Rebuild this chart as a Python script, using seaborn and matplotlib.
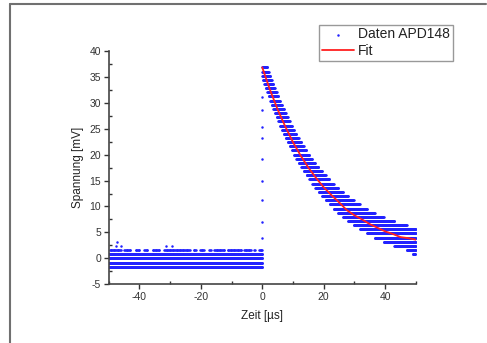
import numpy as np
import pandas as pd
import matplotlib
matplotlib.use("Agg")
import matplotlib.pyplot as plt
from matplotlib.lines import Line2D
from matplotlib.ticker import MultipleLocator
import seaborn as sns

# ---- data ----
# baseline (t < 0): quantised levels [mV] and their time extent [µs]
base_levels = [-1.6, -0.8, 0.0, 0.8]
base_start = [-50.0, -50.0, -50.0, -50.0]
base_end = [0.0, 0.0, 0.0, 0.0]
# upper baseline row (1.6 mV) is broken into runs
row16_start = [-49.6, -44.9, -41.2, -38.4, -35.7, -31.9, -22.3, -20.2, -17.2, -15.6, -11.3, -5.9, -2.6, -1.0]
row16_end = [-45.9, -42.9, -39.9, -37.3, -33.4, -23.6, -21.5, -18.8, -16.6, -12.3, -6.8, -3.6, -2.2, 0.1]
# isolated baseline outliers
out_t = [-47.3, -47.6, -46.0, -31.2, -29.4]
out_v = [3.2, 2.4, 2.4, 2.4, 2.4]
# rising edge samples at t = 0
rise_t = [0.0, 0.0, 0.0, 0.0, 0.0, 0.0, 0.0, 0.0, 0.0]
rise_v = [4.0, 7.1, 11.2, 15.0, 19.2, 23.1, 25.4, 28.6, 31.0]
# decay: quantised levels and the time run each level covers
decay_levels = [36.8, 36.0, 35.2, 34.4, 33.6, 32.8, 32.0, 31.2, 30.4, 29.6,
                28.8, 28.0, 27.2, 26.4, 25.6, 24.8, 24.0, 23.2, 22.4, 21.6,
                20.8, 20.0, 19.2, 18.4, 17.6, 16.8, 16.0, 15.2, 14.4, 13.6,
                12.8, 12.0, 11.2, 10.4, 9.6, 8.8, 8.0, 7.2, 6.4, 5.6,
                4.8, 4.0, 3.2, 2.4, 1.6, 0.8]
decay_start = [0.0, 0.0, 0.0, 0.27, 0.72, 1.18, 1.64, 2.12, 2.61, 3.11,
               3.62, 4.15, 4.70, 5.25, 5.83, 6.42, 7.03, 7.65, 8.30, 8.97,
               9.66, 10.38, 11.12, 11.90, 12.70, 13.54, 14.41, 15.33, 16.29, 17.29,
               18.35, 19.47, 20.66, 21.92, 23.26, 24.71, 26.26, 27.94, 29.78, 31.81,
               34.07, 36.61, 39.53, 42.94, 47.05, 49.0]
decay_end = [1.64, 2.12, 2.61, 3.11, 3.62, 4.15, 4.70, 5.25, 5.83, 6.42,
             7.03, 7.65, 8.30, 8.97, 9.66, 10.38, 11.12, 11.90, 12.70, 13.54,
             14.41, 15.33, 16.29, 17.29, 18.35, 19.47, 20.66, 21.92, 23.26, 24.71,
             26.26, 27.94, 29.78, 31.81, 34.07, 36.61, 39.53, 42.94, 47.05, 50.0,
             50.0, 50.0, 50.0, 50.0, 50.0, 49.8]
# fit curve
fit_t = [0, 2.5, 5, 7.5, 10, 12.5, 15, 17.5, 20, 22.5, 25, 27.5, 30,
         32.5, 35, 37.5, 40, 42.5, 45, 47.5, 50]
fit_v = [36.8, 32.5, 28.7, 25.4, 22.4, 19.8, 17.5, 15.5, 13.7, 12.2, 10.8,
         9.3, 8.3, 7.5, 6.6, 5.9, 5.2, 4.7, 4.1, 3.9, 3.6]

DT = 0.1  # sampling interval [µs]

# ---- build sample table ----
ts, vs = [], []
def add_run(lo, hi, v, step=DT):
    t = np.arange(lo, hi + 1e-9, step)
    ts.extend(t)
    vs.extend([v] * len(t))

for v, lo, hi in zip(base_levels, base_start, base_end):
    add_run(lo, hi, v)
for lo, hi in zip(row16_start, row16_end):
    add_run(lo, hi, 1.6, 0.25)
for v, lo, hi in zip(decay_levels, decay_start, decay_end):
    add_run(lo, hi, v)
ts.extend(out_t); vs.extend(out_v)
ts.extend(rise_t); vs.extend(rise_v)

df = pd.DataFrame({"t": ts, "v": vs})
fit_df = pd.DataFrame({"t": fit_t, "v": fit_v})

# ---- plot ----
sns.set_style("ticks")
plt.rcParams["font.family"] = ["Liberation Sans", "DejaVu Sans"]
plt.rcParams["axes.unicode_minus"] = False

fig = plt.figure(figsize=(4.87, 3.43), dpi=100)
ax = fig.add_axes([0.223, 0.171, 0.631, 0.681])

sns.scatterplot(data=df, x="t", y="v", ax=ax, s=3.2, marker="o",
                color="#2222ff", linewidth=0, label="Daten APD148", zorder=2)
sns.lineplot(data=fit_df, x="t", y="v", ax=ax, color="#ff2020", lw=1.3,
             label="Fit", zorder=3)

ax.set_xlim(-50, 50)
ax.set_ylim(-5, 40)
ax.xaxis.set_major_locator(MultipleLocator(20))
ax.xaxis.set_minor_locator(MultipleLocator(10))
ax.yaxis.set_major_locator(MultipleLocator(5))
ax.yaxis.set_minor_locator(MultipleLocator(2.5))
ax.tick_params(which="major", direction="out", length=3.5, width=1,
               labelsize=7.5, colors="#333333", pad=2)
ax.tick_params(which="minor", direction="in", length=2, width=1, colors="#333333")
sns.despine(ax=ax)
for s in ["left", "bottom"]:
    ax.spines[s].set_color("#444444")
    ax.spines[s].set_linewidth(1.2)

ax.set_xlabel("Zeit [µs]", fontsize=8.5, color="#222222", labelpad=6)
ax.set_ylabel("Spannung [mV]", fontsize=8.5, color="#222222", labelpad=4)

leg = ax.legend(loc="upper right", bbox_to_anchor=(0.93, 0.928),
                bbox_transform=fig.transFigure, fontsize=10, frameon=True,
                fancybox=False, edgecolor="#999999", framealpha=1,
                borderpad=0.2, handlelength=2.3, handletextpad=0.3,
                labelspacing=0.2, borderaxespad=0, markerscale=1.0)
leg.get_frame().set_linewidth(1.0)
for txt in leg.get_texts():
    txt.set_color("#222222")

# outer frame (top and left lines of the image border)
fig.add_artist(Line2D([10 / 487, 486 / 487], [1 - 4 / 343, 1 - 4 / 343],
                      transform=fig.transFigure, color="#707070", lw=1.5))
fig.add_artist(Line2D([10 / 487, 10 / 487], [0, 1 - 4 / 343],
                      transform=fig.transFigure, color="#707070", lw=1.5))

fig.savefig("out.png", dpi=100)
